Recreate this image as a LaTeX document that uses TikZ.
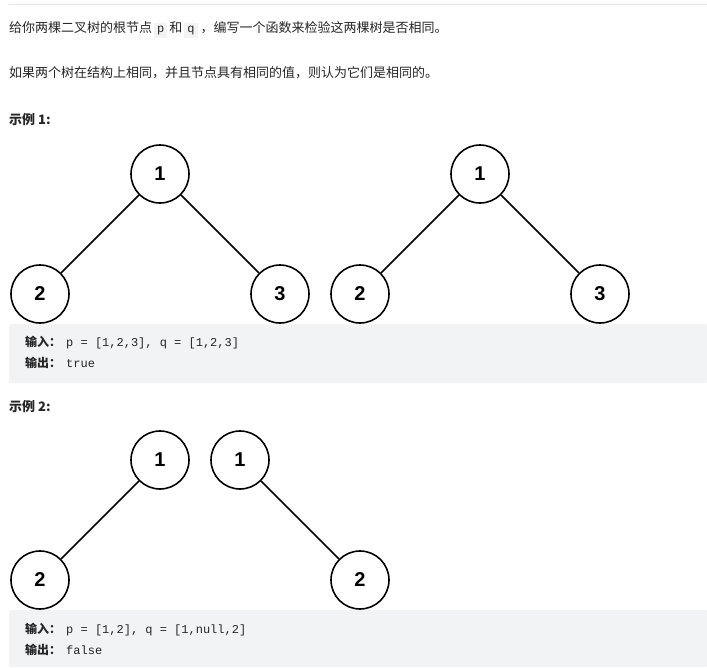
\documentclass[tikz,border=0pt]{standalone}
\usepackage{fontspec}
\setmainfont{Noto Sans CJK SC}
\setmonofont{Liberation Mono}
\newfontfamily\numfont{Liberation Sans}
\usetikzlibrary{positioning}
\definecolor{txt}{HTML}{262626}
\definecolor{codebg}{HTML}{F2F3F5}
\definecolor{rulegray}{HTML}{E6E6E6}
\newcommand{\inlinecode}[1]{{\setlength{\fboxsep}{3pt}\colorbox{codebg}{\ttfamily\fontsize{12}{12}\selectfont #1}}}

\begin{document}
\begin{tikzpicture}[x=1pt,y=-1pt]
\tikzstyle{tnode}=[circle, draw, line width=1.6pt, minimum size=58pt, inner sep=0pt,
	font=\numfont\bfseries\fontsize{20}{20}\selectfont]
\tikzstyle{para}=[anchor=west, inner sep=0pt, text=txt, font=\fontsize{13}{13}\selectfont]
\tikzstyle{codebox}=[anchor=north west, fill=codebg, rounded corners=2pt,
	minimum width=698pt, inner sep=0pt]
\tikzstyle{iotext}=[anchor=west, inner sep=0pt, text=txt, font=\fontsize{12}{12}\selectfont]
\tikzstyle{level 1}=[sibling distance=240pt, level distance=120pt]
\tikzstyle{edge from parent}=[draw, line width=1.5pt]
\useasboundingbox (0,0) rectangle (707,667);
\draw[rulegray, line width=1pt] (9,4) -- (707,4);

\node[para] (intro) at (9,30) {给你两棵二叉树的根节点\hspace{2pt}\inlinecode{p}\hspace{2pt}和\hspace{2pt}\inlinecode{q}\hspace{3pt}，编写一个函数来检验这两棵树是否相同。};
\node[para] (rule) at (9,73) {如果两个树在结构上相同，并且节点具有相同的值，则认为它们是相同的。};

% example 1
\node[para, font=\bfseries\fontsize{13}{13}\selectfont] (ex1) at (9,120) {示例 1:};
\node[tnode] (p1) at (160,174) {1}
	child {node[tnode] (p2) {2}}
	child {node[tnode] (p3) {3}};
\node[tnode] (q1) at (480,174) {1}
	child {node[tnode] (q2) {2}}
	child {node[tnode] (q3) {3}};
\node[codebox, minimum height=59pt] (io1) at (9,324) {};
\node[iotext] (in1) at (25,343) {\textbf{输入：}\hspace{5pt}\ttfamily p = [1,2,3], q = [1,2,3]};
\node[iotext] (out1) at (25,363) {\textbf{输出：}\hspace{5pt}\ttfamily true};

% example 2
\node[para, font=\bfseries\fontsize{13}{13}\selectfont] (ex2) at (9,407) {示例 2:};
\node[tnode] (a1) at (160,460) {1}
	child {node[tnode] (a2) {2}}
	child[missing];
\node[tnode] (b1) at (240,460) {1}
	child[missing]
	child {node[tnode] (b2) {2}};
\node[codebox, minimum height=57pt] (io2) at (9,610) {};
\node[iotext] (in2) at (25,630) {\textbf{输入：}\hspace{5pt}\ttfamily p = [1,2], q = [1,null,2]};
\node[iotext] (out2) at (25,650) {\textbf{输出：}\hspace{5pt}\ttfamily false};
\end{tikzpicture}
\end{document}
